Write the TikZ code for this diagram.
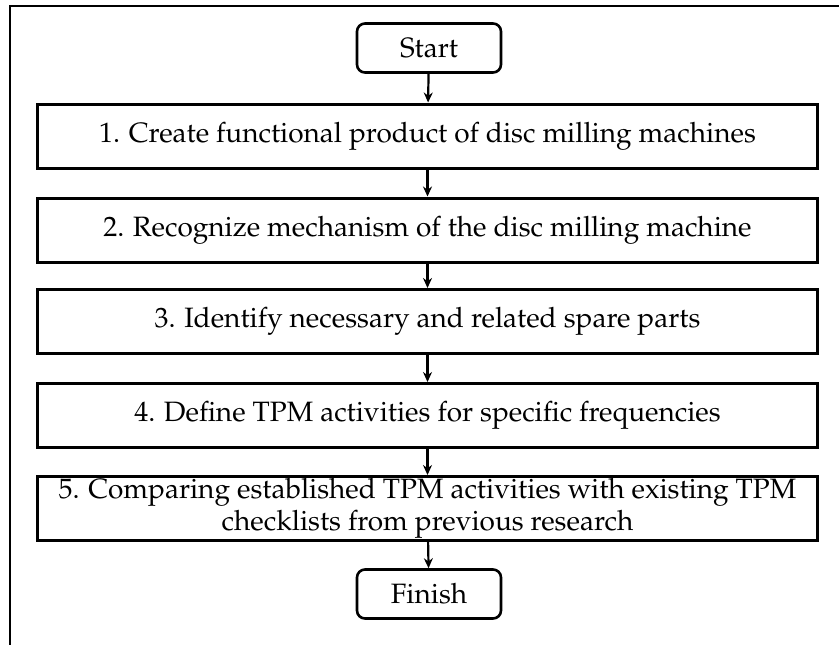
\documentclass[tikz,border=0pt]{standalone}
\usepackage[T1]{fontenc}
\usepackage{mathpazo}
\usetikzlibrary{arrows.meta}

\begin{document}
\begin{tikzpicture}
[x=0.5pt,y=-0.5pt,>={Stealth[length=5pt,width=4.5pt]},
box/.style={draw,line width=1.5pt,minimum width=390pt,minimum height=32pt,inner sep=0pt,align=center,font=\fontsize{14}{16}\selectfont},
term/.style={draw,line width=1.3pt,rounded corners=4pt,minimum width=72pt,minimum height=24.5pt,inner sep=0pt,font=\fontsize{14}{16}\selectfont},]

%Frame
\useasboundingbox (0,0) rectangle (839,644);
\clip (0,0) rectangle (839,644);
\draw[line width=1.2pt] (10,6) rectangle (870,680);

%Placing steps
\node (start) at (429,48)[term] {Start};
\node (s1) at (427.5,136)[box] {1. Create functional product of disc milling machines};
\node (s2) at (427.5,230)[box] {2. Recognize mechanism of the disc milling machine};
\node (s3) at (427.5,321.5)[box] {3. Identify necessary and related spare parts};
\node (s4) at (427.5,415.5)[box] {4. Define TPM activities for specific frequencies};
\node (s5) at (427.5,508.5)[box] {5. Comparing established TPM activities with existing TPM\\checklists from previous research};
\node (finish) at (429,594)[term] {Finish};

%Joining steps
\draw[->,line width=1.1pt] (start)--(s1);
\draw[->,line width=1.1pt] (s1)--(s2);
\draw[->,line width=1.1pt] (s2)--(s3);
\draw[->,line width=1.1pt] (s3)--(s4);
\draw[->,line width=1.1pt] (s4)--(s5);
\draw[->,line width=1.1pt] (s5)--(finish);

\end{tikzpicture}
\end{document}
